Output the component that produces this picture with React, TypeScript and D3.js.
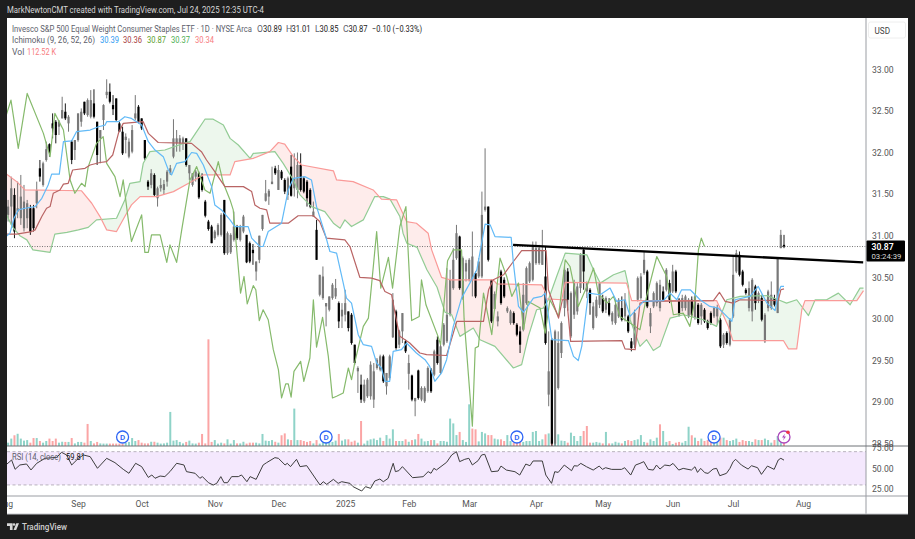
import { useEffect, useRef } from 'react';
import * as d3 from 'd3';

// daily bars, Aug 2024 - Jul 24 2025
const opens = [
  31.25,31.35,31.49,31.29,31.21,31.09,31.21,31.33,31.33,31.39,31.81,31.61,31.91,32.10,32.35,32.37,32.31,32.41,32.49,32.35,
  32.13,32.03,32.15,32.37,32.61,32.45,32.43,32.59,32.37,32.17,32.39,32.69,32.73,32.57,32.65,32.35,32.25,32.15,31.95,32.01,
  32.41,32.55,32.41,32.15,31.65,31.61,31.73,31.45,31.57,31.55,31.65,31.75,31.95,32.11,32.11,32.11,32.17,31.75,31.61,31.71,
  31.75,31.71,31.41,31.17,31.11,30.97,31.01,31.01,31.43,30.79,30.80,30.95,31.11,30.95,31.05,31.01,30.91,30.83,30.57,30.71,
  31.08,31.42,31.47,31.62,31.81,31.55,31.77,31.67,31.49,31.83,31.57,31.55,31.85,31.69,31.65,31.55,31.23,31.07,30.29,30.25,
  30.15,30.11,30.25,30.27,30.19,30.03,30.05,30.09,30.05,29.69,29.37,29.21,29.01,29.07,29.07,29.03,29.41,29.39,29.55,29.19,
  29.29,29.78,30.09,29.69,29.85,29.73,29.34,29.32,29.01,29.38,29.03,29.01,29.13,29.39,29.33,29.75,29.35,29.69,29.73,30.05,
  30.37,30.73,30.99,30.25,30.57,30.47,30.47,30.55,30.51,30.51,31.31,31.35,30.47,30.12,29.97,30.57,30.47,30.09,29.95,30.07,
  29.93,29.85,29.87,30.19,30.45,30.47,30.67,30.67,30.65,30.51,29.09,29.75,28.50,29.17,29.59,30.13,30.57,29.79,30.05,30.09,
  30.37,30.83,30.33,30.35,29.89,30.03,30.17,30.25,30.11,30.19,29.97,29.95,30.03,30.13,30.03,30.03,29.73,29.69,30.23,30.25,
  30.55,30.57,29.91,30.15,30.19,30.13,30.33,30.35,30.43,30.33,30.57,30.23,30.13,30.13,30.03,30.23,30.01,30.17,30.03,30.11,
  29.97,30.07,30.03,30.03,29.99,29.69,29.83,29.69,30.03,30.57,30.77,30.57,30.35,30.13,30.09,30.39,30.23,30.25,29.73,30.13,
  30.13,30.25,30.07,30.85,30.89,
];
const highs = [
  31.43,31.71,31.57,31.65,31.73,31.61,31.43,31.37,31.37,31.65,31.91,31.89,32.13,32.11,32.47,32.39,32.39,32.67,32.59,32.45,
  32.15,32.15,32.47,32.53,32.61,32.65,32.75,32.76,32.37,32.27,32.58,32.88,32.83,32.69,32.65,32.37,32.31,32.23,32.17,32.33,
  32.69,32.57,32.41,32.15,31.67,31.80,31.75,31.59,31.69,31.67,31.79,31.85,32.40,32.27,32.21,32.19,32.17,31.85,31.75,31.79,
  31.77,31.75,31.43,31.19,31.13,31.07,31.15,31.27,31.43,31.05,31.03,31.29,31.13,31.13,31.25,31.01,30.93,30.90,30.69,31.00,
  31.25,31.67,31.56,31.83,31.84,31.85,31.79,31.69,31.71,31.97,31.99,32.00,31.99,31.71,31.67,31.57,31.41,31.19,30.53,30.63,
  30.19,30.27,30.43,30.48,30.21,30.19,30.35,30.09,30.07,29.69,29.43,29.33,29.27,29.29,29.49,29.47,29.53,29.57,29.57,29.35,
  29.57,30.31,30.11,29.87,30.07,29.75,29.57,29.33,29.05,29.39,29.19,29.19,29.43,29.41,29.63,29.79,29.69,29.95,30.61,30.59,
  30.85,31.13,31.00,30.75,30.71,30.73,31.05,30.57,30.73,31.53,32.05,31.35,30.47,30.33,30.09,30.59,30.50,30.15,30.11,30.09,
  29.95,29.91,30.43,30.63,30.69,30.93,30.93,30.89,31.07,30.87,29.85,29.77,29.87,29.85,29.97,30.63,30.61,30.33,30.47,30.43,
  30.79,30.85,30.45,30.37,30.20,30.27,30.45,30.29,30.27,30.25,30.09,30.23,30.25,30.27,30.31,30.05,29.77,30.11,30.51,30.55,
  30.81,30.59,30.13,30.33,30.45,30.47,30.39,30.61,30.47,30.65,30.59,30.25,30.29,30.29,30.25,30.27,30.29,30.19,30.19,30.13,
  29.99,30.09,30.15,30.17,30.01,29.83,29.85,30.01,30.75,30.83,30.81,30.59,30.37,30.45,30.49,30.41,30.33,30.29,30.07,30.35,
  30.45,30.29,30.74,31.07,31.01,
];
const lows = [
  31.17,31.13,30.97,31.21,31.13,31.05,31.09,31.01,31.05,31.33,31.65,31.59,31.89,31.95,32.17,32.11,32.21,32.41,32.39,32.25,
  31.86,31.91,32.13,32.31,32.45,32.43,32.41,32.41,31.85,31.87,32.27,32.65,32.59,32.45,32.37,32.25,31.97,31.99,31.93,31.99,
  32.39,32.35,32.27,31.91,31.55,31.57,31.47,31.35,31.53,31.49,31.59,31.73,31.93,32.01,32.01,32.03,31.83,31.67,31.59,31.65,
  31.44,31.53,31.22,31.06,30.91,30.95,30.99,30.99,30.77,30.77,30.78,30.93,30.95,30.93,31.03,30.67,30.67,30.65,30.46,30.67,
  31.06,31.41,31.37,31.62,31.73,31.55,31.67,31.50,31.43,31.47,31.47,31.45,31.53,31.51,31.35,31.33,31.23,30.71,30.27,30.23,
  29.91,30.09,30.23,30.24,29.89,29.89,29.97,29.85,29.69,29.45,29.11,28.99,28.99,29.05,29.03,28.93,29.39,29.37,29.23,29.09,
  29.27,29.77,29.63,29.65,29.71,29.59,29.15,29.01,28.83,29.03,29.01,28.99,29.11,29.11,29.31,29.45,29.33,29.67,29.71,30.03,
  30.35,30.71,30.35,30.23,30.45,30.45,30.27,30.25,30.49,30.49,31.29,30.69,29.95,30.10,29.91,30.17,30.25,30.07,29.93,29.93,
  29.79,29.59,29.85,30.17,30.43,30.45,30.65,30.65,30.65,29.69,28.95,28.40,28.40,29.15,29.53,30.03,30.10,29.77,30.00,30.05,
  30.31,30.35,30.25,30.05,29.87,30.01,30.13,30.07,30.07,30.03,29.93,29.93,30.01,29.97,29.97,29.83,29.61,29.65,30.21,30.23,
  30.53,30.13,29.83,30.13,30.15,30.09,30.21,30.33,30.19,30.31,30.31,30.03,30.09,30.10,30.01,30.03,29.99,29.93,29.93,29.95,
  29.87,29.93,30.01,29.93,29.65,29.65,29.69,29.67,30.01,30.55,30.51,30.39,30.29,30.09,29.97,30.11,30.19,29.97,29.71,30.09,
  30.11,30.15,30.07,30.85,30.85,
];
const closes = [
  31.35,31.57,31.05,31.33,31.47,31.41,31.39,31.05,31.09,31.55,31.71,31.87,32.04,32.01,32.29,32.21,32.37,32.51,32.41,32.43,
  31.91,32.15,32.47,32.49,32.47,32.63,32.63,32.43,31.97,32.27,32.57,32.73,32.61,32.52,32.39,32.25,31.99,32.19,32.13,32.27,
  32.47,32.37,32.29,31.93,31.59,31.75,31.49,31.57,31.61,31.62,31.77,31.81,32.17,32.17,32.17,32.17,31.85,31.85,31.75,31.77,
  31.46,31.55,31.24,31.08,30.91,31.05,31.13,31.25,30.79,31.03,31.01,31.11,30.97,31.11,31.23,30.68,30.69,30.79,30.69,31.00,
  31.25,31.51,31.54,31.65,31.75,31.79,31.69,31.53,31.69,31.48,31.69,31.85,31.55,31.53,31.45,31.35,31.29,30.71,30.53,30.51,
  30.19,30.27,30.41,30.37,29.97,30.11,30.19,29.89,29.71,29.47,29.41,29.03,29.21,29.27,29.45,29.37,29.51,29.55,29.25,29.35,
  29.55,30.23,29.65,29.85,30.07,29.61,29.47,29.03,29.05,29.05,29.17,29.17,29.41,29.13,29.61,29.47,29.67,29.93,30.05,30.47,
  30.71,31.03,30.37,30.73,30.67,30.71,30.75,30.27,30.69,31.25,31.35,30.71,29.97,30.30,30.03,30.19,30.27,30.13,30.09,29.95,
  29.81,29.69,30.29,30.61,30.67,30.87,30.85,30.85,30.83,29.71,29.37,28.50,29.85,29.71,29.95,30.59,30.23,30.31,30.43,30.39,
  30.77,30.57,30.43,30.19,30.15,30.23,30.43,30.09,30.25,30.05,30.07,30.17,30.23,29.99,30.23,29.85,29.65,30.07,30.49,30.51,
  30.71,30.15,30.07,30.31,30.43,30.41,30.23,30.59,30.23,30.57,30.33,30.07,30.25,30.27,30.23,30.05,30.27,29.95,30.17,29.97,
  29.89,29.95,30.13,30.13,29.67,29.81,29.71,29.99,30.53,30.79,30.53,30.41,30.31,30.37,30.47,30.19,30.31,29.99,30.05,30.33,
  30.29,30.17,30.73,31.01,30.87,
];

// volume in thousands of shares
const volumes = [
  90,200,290,330,200,145,160,90,215,215,135,90,135,200,135,200,90,115,110,110,
  215,70,110,110,90,595,135,70,110,70,65,65,65,65,65,65,65,90,110,215,
  135,160,90,70,70,115,115,90,65,70,90,920,145,160,110,70,110,145,70,65,
  90,325,70,2880,110,160,65,90,70,180,65,160,70,70,115,65,90,90,90,70,
  325,145,135,160,115,90,290,340,180,160,1010,160,160,135,110,135,70,160,65,160,
  160,145,110,145,325,145,180,180,115,145,90,675,65,145,180,200,160,225,135,295,
  200,450,135,135,135,180,115,160,180,325,200,125,135,160,160,70,135,135,115,740,
  610,295,380,160,110,1125,470,450,125,380,340,295,295,200,180,180,135,295,135,90,
  90,225,110,135,135,380,405,135,180,315,340,225,315,315,145,135,90,360,270,135,
  270,405,540,90,90,110,90,70,380,70,70,115,90,70,135,160,135,160,180,295,
  110,90,180,135,225,585,405,110,135,55,90,110,90,135,520,290,225,135,200,135,
  160,110,90,135,225,225,160,135,160,200,110,160,135,135,110,180,160,160,200,160,
  90,160,270,110,112.52,
];
const redVolumeBars = [25, 61, 111, 146, 182, 205];
const tealVolumeBars = [139, 140, 145, 206, 214];

// ichimoku lines as [bar, price]
const tenkan: [number, number][] = [
  [-1,30.98],[0.6,31.03],[1.85,31.21],[3.2,31.31],[5.3,31.33],[8.5,31.35],[10.6,31.45],[12.6,31.61],[13.7,31.74],[16.1,31.74],[17.4,32.13],[20,32.14],[21.5,32.25],[25.8,32.27],[28.4,32.31],[30.5,32.33],[31,32.37],[34.7,32.37],[36.7,32.43],[38.8,32.41],[42,32.33],[44.1,32.13],[46.2,32.03],[48.8,31.95],[50.4,31.79],[51.4,31.73],[53,31.87],[55.6,31.89],[57.7,32],[59.3,31.99],[61.4,31.85],[64,31.59],[65,31.37],[67.1,31.31],[69.8,31.19],[71.3,31.11],[75.5,31.11],[76.6,30.97],[79.2,30.87],[80.2,30.87],[81.8,31.05],[86,31.15],[88.1,31.55],[89.7,31.69],[93.3,31.71],[95.4,31.67],[97,31.35],[99.6,31.03],[101.2,30.81],[103.3,30.79],[105.4,30.43],[106.4,30.25],[108,30.19],[110.1,29.81],[111.7,29.69],[114.3,29.67],[115.9,29.47],[117.4,29.41],[118.5,29.25],[120,29.25],[121.1,29.61],[123.7,29.63],[125.3,29.71],[128.4,29.59],[131.1,29.51],[132.6,29.43],[134.2,29.25],[136.3,29.35],[137.9,29.51],[140,29.91],[142.6,30.25],[145.2,30.43],[147.4,30.59],[150,31.14],[151.6,31.13],[153.1,30.99],[158.2,30.98],[158.9,30.67],[160.5,30.15],[162.1,30.08],[165.2,30.25],[167.8,30.27],[168.9,30.31],[171,29.75],[176.2,29.74],[177.8,29.55],[179.3,29.5],[180.4,29.67],[182.5,30.31],[186.2,30.29],[189.3,30.37],[191.4,30.21],[194,30.23],[195.6,30.03],[199.8,30.21],[206.1,30.22],[208.2,30.31],[210.3,30.23],[211.8,30.35],[214.5,30.35],[217.6,30.23],[220.7,30.15],[223.4,30.13],[226,30.03],[227.6,29.97],[228.6,30.23],[233.3,30.27],[235.9,30.39],[238.6,30.19],[241.2,30.1],[242.2,30.31],[243,30.39],[244,30.39],
];
const kijun: [number, number][] = [
  [-1,31.02],[2.7,31.02],[7.4,31.05],[8.5,31.07],[10.6,31.23],[12.1,31.33],[13.2,31.35],[14.2,31.51],[16.3,31.55],[17.4,31.62],[18.9,31.63],[20.3,31.79],[24.2,31.81],[25.8,31.85],[28.9,31.88],[31,31.89],[32.9,31.97],[34.7,32.23],[36.2,32.35],[42.5,32.37],[44.1,32.23],[47.2,32.12],[57.7,32.11],[60.8,32.01],[62.4,31.91],[65,31.77],[67.1,31.65],[68.2,31.59],[74,31.59],[76.6,31.53],[77.6,31.37],[79.2,31.33],[81.3,31.31],[82.3,31.15],[88.1,31.15],[91.2,31.24],[96,31.24],[98,31.17],[100.1,30.97],[105.9,30.95],[107.5,30.87],[110.6,30.5],[114.3,30.49],[116.9,30.46],[118.5,30.33],[120.6,30.29],[122.7,29.87],[123.2,29.79],[126.3,29.71],[129.5,29.59],[131.6,29.57],[137.9,29.56],[141.1,29.97],[149.5,29.97],[151.1,30.35],[152.6,30.47],[155.8,30.53],[158.9,30.69],[161.5,30.82],[169.2,30.82],[169.9,30.35],[173.1,30.01],[174.3,30.23],[175.7,30.23],[176.9,29.73],[193,29.74],[194,29.64],[197.2,29.63],[198.7,30.19],[200.8,30.21],[221.8,30.22],[223.7,30.32],[225.5,30.21],[228,30.19],[230.2,30.23],[242.2,30.22],[243,30.35],[244,30.36],
];
const lagging: [number, number][] = [
  [-1,32.4],[0.9,32.63],[3.2,32.05],[6,32.71],[11.1,32.23],[13.2,31.95],[14.7,32.47],[17.4,32.27],[19.5,31.67],[21,31.51],[23.1,31.63],[24.2,31.59],[25.2,31.83],[27.8,32.11],[29.9,32.19],[31,31.87],[33.6,31.71],[35.2,31.47],[36.2,31.67],[37.8,31.19],[38.8,30.93],[42,31.25],[43,30.8],[44.1,30.8],[45.1,31.01],[47.8,31.01],[49.9,30.68],[50.9,30.89],[53,30.68],[54.6,31.07],[57.2,31.67],[59.3,31.83],[61.9,31.55],[63.5,31.51],[66.1,31.89],[67.7,31.63],[69.8,31.43],[70.8,31.31],[71.9,30.83],[73.1,30.31],[74.2,30.51],[75.2,30.18],[77.1,30.4],[77.9,30.35],[79,29.98],[80.2,30.11],[81.8,29.99],[83.4,29.63],[85,29.39],[86,29.05],[87.3,29.22],[88.1,29.22],[89,29.06],[89.9,29.37],[92,29.49],[93,29.25],[94.9,29.53],[96,30.23],[97,29.66],[98.9,30.02],[100.7,29.55],[102,29.05],[103.3,29.07],[105.4,29.11],[107,29.41],[108,29.27],[109.1,29.49],[111.7,29.91],[113.3,30.01],[115.9,31.05],[117.2,30.37],[119.6,30.74],[120.9,30.37],[123.2,31.11],[125.1,31.35],[126.9,29.98],[129.3,30.03],[130,30.47],[131.4,30.17],[135.2,29.79],[136,29.69],[138.2,30.7],[140,30.83],[142.6,30.83],[143.4,30],[146,28.71],[146.9,29.65],[147.9,29.67],[149.5,30.31],[152.1,29.81],[154.7,30.73],[156.8,30.51],[158.4,30.27],[160.5,30.43],[162.1,29.87],[163.6,30.21],[167.3,30.13],[168.9,29.83],[170.4,30.23],[173.1,30.03],[175.2,30.71],[176.7,30.63],[179.3,30.15],[182,30.39],[184.1,30.61],[185.6,30.31],[188.3,30.19],[190.4,30.27],[192.4,30.03],[195.6,29.95],[198.7,29.87],[200.8,30.27],[204,30.75],[207.1,30.51],[209.2,30.05],[212.3,30.07],[214.4,29.91],[216,30.23],[217.1,30.83],[218,30.97],[219,30.87],
];
const leadA: [number, number][] = [
  [-1,31.3],[0,31.21],[1.5,31.1],[3.7,31],[5.9,30.95],[7.8,30.83],[13.2,30.8],[14.7,31.02],[18.5,31.04],[22.1,31.07],[25.2,31.1],[27.8,31.19],[34.1,31.21],[36.7,31.43],[38.3,31.63],[41.5,31.65],[42.5,31.87],[44.6,32.01],[49.3,32.03],[55.1,32.11],[57.2,32.13],[59.3,32.25],[61.9,32.4],[64.5,32.4],[67.7,32.33],[69.8,32.17],[72.4,32.09],[76.1,31.93],[77.1,31.99],[83.9,32.01],[86.5,31.87],[89.7,31.67],[91.8,31.49],[95.4,31.35],[99.6,31.29],[102.3,31.15],[104.4,31.09],[105.9,31.19],[108,31.11],[111.7,31.19],[115.3,31.47],[118,31.47],[120.1,31.44],[123.2,31.23],[124.2,31.03],[125.4,30.91],[128.6,30.86],[131.7,30.59],[134.9,30.38],[137.4,30.08],[139.5,30.05],[142.1,29.79],[146.3,29.89],[148.4,29.75],[153.1,29.67],[158.9,29.41],[161.5,29.45],[163.6,29.79],[166.2,30.11],[168.3,30.13],[169.9,30.23],[172.5,30.51],[175.2,30.79],[182,30.77],[184.1,30.59],[186.2,30.43],[190.4,30.53],[194,30.58],[195.1,30.39],[195.6,29.99],[198.7,29.67],[200.8,29.75],[202.9,29.62],[205,29.67],[208.2,30.01],[212.4,30.05],[218.6,29.99],[222.8,29.91],[226,30.23],[230.2,30.27],[238.6,30.28],[242.2,30.23],[244.8,30.19],[248,30.23],[251.7,30.04],[253.8,30.23],[257.4,30.23],[261.1,30.31],[264.8,30.17],[267.9,30.37],[269,30.37],
];
const leadB: [number, number][] = [
  [-1,31.78],[-0.45,31.74],[2.7,31.65],[5.3,31.55],[23.1,31.54],[26.3,31.39],[28.9,31.23],[31,31.07],[34.1,31.05],[36.7,31.23],[38.8,31.37],[41.5,31.47],[46.7,31.47],[52,31.53],[57.2,31.64],[61.4,31.73],[69.8,31.73],[71.3,31.89],[77.1,31.93],[82.3,32.01],[85,32.12],[87,32.1],[89.7,31.95],[92.3,31.85],[102.3,31.78],[103.3,31.67],[108.5,31.65],[114.8,31.55],[117.4,31.44],[122.2,31.43],[125.3,31.17],[128.4,31.15],[132.1,31.03],[133.2,30.83],[136.3,30.5],[139,30.47],[152.6,30.47],[153.7,30.42],[167.8,30.41],[168.9,30.33],[169.4,30.24],[174.1,30.23],[175.2,30.44],[194.5,30.43],[196.1,30.22],[222.8,30.22],[226.5,29.91],[227.9,29.74],[243.8,29.74],[245.4,29.64],[248,29.64],[249.6,30.11],[250.6,30.22],[266.9,30.22],[269,30.34],
];

// hand-drawn resistance line
const trendLine: [number, number][] = [[158.8, 30.89], [268.9, 30.68]];

const rsi: [number, number][] = [
  [-1,53],[1.1,60],[2.2,48.8],[3.7,54],[5.8,55.2],[7.2,48],[9,56],[11.6,62],[15.3,63.2],[16.8,69.2],[18.4,66],[20,54],[22.1,62],[23.7,66],[25.8,64],[28.1,50],[31,62],[33.6,56.8],[36.2,48.8],[38,44],[40.1,56],[42,52],[44.1,39],[45.2,42],[46.2,38],[47.8,40.7],[49.3,40],[50.9,46],[53,56],[55.3,54],[56.1,46],[58.8,44],[60.3,38],[61.1,40],[63,32.7],[64.5,29.9],[65.6,31.9],[66.9,40],[67.9,32.7],[69,32.7],[70.3,40],[72.4,40],[73.4,42],[75.1,33.9],[76.1,40],[78,36.7],[80.2,54],[81.3,56.8],[83.9,62.8],[85,62],[87.1,54],[87.8,56],[88.8,52],[90.7,60.8],[91.8,52],[93.9,53.2],[97,35.9],[98.1,29.9],[99.1,33.9],[100.2,30.7],[102.3,36.7],[103.8,31.9],[104.9,33.9],[107.5,31.9],[108.5,27.9],[111.2,22.7],[112.4,27.9],[114,25.9],[115.3,34.7],[116.9,37.1],[118,33.9],[119.5,37.9],[121.1,56],[121.8,46],[122.9,47.2],[124,52],[127.2,38.7],[130.5,39.9],[132.1,46],[133,44],[133.9,50],[134.7,48],[137.9,57.2],[139.5,66],[141,70],[142,58],[143.6,60.8],[144.9,62],[146,54],[147.8,59.2],[148.9,66],[149.9,66.8],[152,45.9],[154.1,46.7],[155,52.7],[156.7,47.9],[159.4,45.9],[160.9,41.9],[162.8,55.1],[164.1,53.1],[165.1,58.8],[168,58.8],[169.1,41.9],[170.9,31.9],[171.9,45.9],[173,45.1],[174.9,53.9],[177.2,47.1],[178,53.1],[179,52.7],[180.1,55.9],[181.9,51.9],[184,47.9],[185.9,52.7],[186.9,48.7],[187.9,50.7],[189.8,48.7],[192.9,48.7],[193.9,50.7],[195.8,41.9],[197.3,53.9],[198.7,55.9],[199.9,58],[201.3,48.7],[202.9,47.9],[203.9,53.9],[205,49.1],[206.5,53.9],[208.1,53.1],[209.1,55.9],[210.9,47.9],[212.3,49.9],[214.9,47.9],[216,51.9],[216.8,45.1],[217.8,49.9],[219.1,44.7],[220.1,43.9],[221.7,49.1],[222.8,49.9],[223.8,41.1],[225.9,43.9],[227,49.9],[228,57.9],[228.8,60.8],[230.6,53.9],[232.7,49.1],[233.8,53.1],[235.7,50.7],[236.9,42.7],[238.8,52.7],[240.9,48.7],[242.2,60],[243,62],[244,59.81],
];

const priceTicks = [33, 32.5, 32, 31.5, 31, 30.5, 30, 29.5, 29, 28.5];
const rsiTicks = [75, 50, 25];
const timeTicks = [-1, 22, 42, 65, 85, 106, 126, 145, 166, 187, 209, 228, 250];
const timeLabels = ['Aug', 'Sep', 'Oct', 'Nov', 'Dec', '2025', 'Feb', 'Mar', 'Apr', 'May', 'Jun', 'Jul', 'Aug'];
const dividendBars = [36, 100, 160, 222];
const earningsBar = 244;
const lastClose = 30.87;
const ohlcKeys = ['O', 'H', 'L', 'C'];
const ohlcValues = ['30.89', '31.01', '30.85', '30.87'];
const ichimokuValues = ['30.39', '30.36', '30.87', '30.37', '30.34'];

const FONT = 'Roboto, sans-serif';

export default function App() {
  const svgRef = useRef<SVGSVGElement | null>(null);

  useEffect(() => {
    const svg = d3.select(svgRef.current);
    svg.selectAll('*').remove();

    const width = 915, height = 539;
    const left = 7, top = 18, right = 908, axisX = 866, paneY = 446, rsiBottom = 496, bottom = 514;

    const x = d3.scaleLinear().domain([0, 244]).range([8.1, 784]);
    const y = d3.scaleLinear().domain([33, 28.5]).range([69.3, 443.7]);
    const yRsi = d3.scaleLinear().domain([75, 25]).range([447.5, 489.1]);
    const yVol = d3.scaleLinear().domain([0, 2700]).range([paneY, paneY - 100]);

    svg.append('rect').attr('width', width).attr('height', height).attr('fill', '#1e1e1e');
    svg.append('rect').attr('x', left).attr('y', top).attr('width', right - left).attr('height', bottom - top).attr('fill', '#fff');

    const defs = svg.append('defs');
    defs.append('clipPath').attr('id', 'main-clip').append('rect')
      .attr('x', left).attr('y', top).attr('width', axisX - left).attr('height', paneY - top);
    defs.append('clipPath').attr('id', 'rsi-clip').append('rect')
      .attr('x', left).attr('y', paneY).attr('width', axisX - left).attr('height', rsiBottom - paneY);
    defs.append('clipPath').attr('id', 'time-clip').append('rect')
      .attr('x', left).attr('y', rsiBottom).attr('width', axisX - left).attr('height', bottom - rsiBottom);

    // cloud: each colour is the area beyond one lead, clipped by the other
    const areaTop = (pts: [number, number][]) => d3.area<[number, number]>()
      .x(d => x(d[0])).y0(top).y1(d => y(d[1]))(pts) as string;
    const areaBottom = (pts: [number, number][]) => d3.area<[number, number]>()
      .x(d => x(d[0])).y0(paneY).y1(d => y(d[1]))(pts) as string;
    defs.append('clipPath').attr('id', 'under-a').append('path').attr('d', areaBottom(leadA));
    defs.append('clipPath').attr('id', 'under-b').append('path').attr('d', areaBottom(leadB));

    const main = svg.append('g').attr('clip-path', 'url(#main-clip)');

    // volume
    main.append('g').selectAll('rect').data(volumes).join('rect')
      .attr('x', (_, i) => x(i) - 1)
      .attr('width', 2)
      .attr('y', d => yVol(d))
      .attr('height', d => paneY - yVol(d))
      .attr('fill', (_, i) => {
        const up = closes[i] >= opens[i];
        if (redVolumeBars.includes(i)) return '#fba5a5';
        if (tealVolumeBars.includes(i)) return '#8fd3c8';
        return up ? '#8fd3c8' : '#fba5a5';
      });

    main.append('g').attr('clip-path', 'url(#under-a)')
      .append('path').attr('d', areaTop(leadB)).attr('fill', '#4caf50').attr('fill-opacity', 0.1);
    main.append('g').attr('clip-path', 'url(#under-b)')
      .append('path').attr('d', areaTop(leadA)).attr('fill', '#f44336').attr('fill-opacity', 0.1);

    // last price line
    main.append('line')
      .attr('x1', left).attr('x2', axisX).attr('y1', y(lastClose)).attr('y2', y(lastClose))
      .attr('stroke', '#555').attr('stroke-width', 0.8).attr('stroke-dasharray', '1,1.5');

    // candles
    const candles = main.append('g');
    opens.forEach((o, i) => {
      const c = closes[i];
      const color = c >= o ? '#787878' : '#000';
      candles.append('line')
        .attr('x1', x(i)).attr('x2', x(i))
        .attr('y1', y(highs[i])).attr('y2', y(lows[i]))
        .attr('stroke', c >= o ? '#666' : '#000').attr('stroke-width', 0.9);
      candles.append('rect')
        .attr('x', x(i) - 1.1).attr('width', 2.2)
        .attr('y', y(Math.max(o, c)))
        .attr('height', Math.max(1, Math.abs(y(o) - y(c))))
        .attr('fill', color);
    });

    // ichimoku lines
    const line = d3.line<[number, number]>().x(d => x(d[0])).y(d => y(d[1]));
    const drawLine = (pts: [number, number][], color: string, w = 1.2) =>
      main.append('path').attr('d', line(pts)).attr('fill', 'none')
        .attr('stroke', color).attr('stroke-width', w).attr('stroke-linejoin', 'round');
    drawLine(leadA, '#93cc95');
    drawLine(leadB, '#fa9a98');
    drawLine(lagging, '#86ba6c');
    drawLine(kijun, '#b96464');
    drawLine(tenkan, '#62baf7');
    drawLine(trendLine, '#000', 2.4);

    // dividend and earnings markers
    dividendBars.forEach(b => {
      main.append('circle').attr('cx', x(b)).attr('cy', 437).attr('r', 6)
        .attr('fill', '#fff').attr('stroke', '#2f66f5').attr('stroke-width', 1.3);
      main.append('text').attr('x', x(b)).attr('y', 440).attr('text-anchor', 'middle')
        .attr('font-family', FONT).attr('font-size', 8).attr('font-weight', 600).attr('fill', '#2f66f5').text('D');
    });
    const ex = x(earningsBar);
    main.append('circle').attr('cx', ex).attr('cy', 437).attr('r', 6)
      .attr('fill', '#fff').attr('stroke', '#ab47bc').attr('stroke-width', 1.3);
    main.append('path').attr('d', `M${ex + 1} ${433.5}L${ex - 2} ${437.6}H${ex}L${ex - 1} ${440.5}L${ex + 2} ${436.4}H${ex}Z`).attr('fill', '#ab47bc');
    main.append('circle').attr('cx', ex + 4).attr('cy', 432.3).attr('r', 1.8).attr('fill', '#f23645');

    // rsi pane
    const rsiPane = svg.append('g').attr('clip-path', 'url(#rsi-clip)');
    rsiPane.append('rect')
      .attr('x', left).attr('width', axisX - left)
      .attr('y', yRsi(70)).attr('height', yRsi(30) - yRsi(70))
      .attr('fill', '#f4e8fd');
    [70, 30].forEach(v => {
      rsiPane.append('line')
        .attr('x1', left).attr('x2', axisX).attr('y1', yRsi(v)).attr('y2', yRsi(v))
        .attr('stroke', '#a9a2ad').attr('stroke-width', 0.8).attr('stroke-dasharray', '3,2.5');
    });
    const rsiLine = d3.line<[number, number]>().x(d => x(d[0])).y(d => yRsi(d[1]));
    rsiPane.append('path').attr('d', rsiLine(rsi)).attr('fill', 'none')
      .attr('stroke', '#3d3d3d').attr('stroke-width', 1);

    // frame lines
    const frame = '#9a9da3';
    svg.append('line').attr('x1', axisX).attr('x2', axisX).attr('y1', top).attr('y2', bottom).attr('stroke', frame).attr('stroke-width', 1);
    svg.append('line').attr('x1', left).attr('x2', right).attr('y1', paneY).attr('y2', paneY).attr('stroke', '#6f7277').attr('stroke-width', 1);
    svg.append('line').attr('x1', left).attr('x2', right).attr('y1', rsiBottom).attr('y2', rsiBottom).attr('stroke', frame).attr('stroke-width', 1);
    svg.append('line').attr('x1', left).attr('x2', right).attr('y1', bottom).attr('y2', bottom).attr('stroke', '#c4c6ca').attr('stroke-width', 1);

    // axes
    const styleAxis = (g: any) => {
      g.select('.domain').remove();
      g.selectAll('text').attr('font-family', FONT).attr('font-size', 8.6).attr('fill', '#555');
    };
    const priceAxis = svg.append('g').attr('transform', `translate(${axisX + 3},0)`)
      .call(d3.axisRight(y).tickValues(priceTicks).tickSize(0).tickFormat(d => (+d).toFixed(2)) as any);
    styleAxis(priceAxis);
    const rsiAxis = svg.append('g').attr('transform', `translate(${axisX + 3},0)`)
      .call(d3.axisRight(yRsi).tickValues(rsiTicks).tickSize(0).tickFormat(d => (+d).toFixed(2)) as any);
    styleAxis(rsiAxis);
    // clip on the outer group so the axis offset does not move the clip box
    const timeAxis = svg.append('g').attr('clip-path', 'url(#time-clip)')
      .append('g').attr('transform', `translate(0,${rsiBottom + 2})`)
      .call(d3.axisBottom(x).tickValues(timeTicks).tickSize(0).tickFormat((_, i) => timeLabels[i]) as any);
    styleAxis(timeAxis);

    // last price tag
    svg.append('rect').attr('x', axisX + 0.5).attr('y', 240.5).attr('width', 38.5).attr('height', 21).attr('rx', 1).attr('fill', '#000');
    const addText = (tx: number, ty: number, s: string, fill: string, size = 8.6, weight: number | string = 400, len?: number) => {
      const t = svg.append('text').attr('x', tx).attr('y', ty).attr('font-family', FONT)
        .attr('font-size', size).attr('font-weight', weight).attr('fill', fill).text(s);
      if (len) t.attr('textLength', len).attr('lengthAdjust', 'spacingAndGlyphs');
      return t;
    };
    addText(axisX + 5.5, 249.5, '30.87', '#fff', 8.6, 600);
    addText(axisX + 5.5, 259, '03:24:39', '#d8d8d8', 7.8, 400, 30);

    // currency button
    svg.append('rect').attr('x', 868.5).attr('y', 22).attr('width', 37).attr('height', 16).attr('rx', 2)
      .attr('fill', '#fff').attr('stroke', '#eeeeee');
    addText(874.5, 33.5, 'USD', '#444', 8.2);

    // header
    addText(7, 13, 'MarkNewtonCMT created with TradingView.com, Jul 24, 2025 12:35 UTC-4', '#d6d6d6', 8.6, 400, 257);

    // legend
    const grey = '#5d606b';
    addText(12, 31.5, 'Invesco S&P 500 Equal Weight Consumer Staples ETF · 1D · NYSE Arca', grey, 8.6, 400, 240);
    const ohlcX = [257, 286, 315, 343];
    const ohlcGap = [6, 5.6, 4.6, 5.4];
    ohlcKeys.forEach((k, i) => {
      addText(ohlcX[i], 31.5, k, grey, 8.6);
      addText(ohlcX[i] + ohlcGap[i], 31.5, ohlcValues[i], '#222', 8.6, 400, 19);
    });
    addText(372, 31.5, '−0.10 (−0.33%)', '#222', 8.6, 400, 50);

    addText(12, 43, 'Ichimoku (9, 26, 52, 26)', grey, 8.6, 400, 83);
    const ichimokuColors = ['#2e9cf2', '#a83c3c', '#5aa02c', '#4caf50', '#f77c80'];
    const ichimokuX = [100, 123, 147, 171, 195];
    ichimokuValues.forEach((s, i) => addText(ichimokuX[i], 43, s, ichimokuColors[i], 8.6, 400, 19));

    addText(12, 54.5, 'Vol', grey, 8.6);
    addText(27, 54.5, '112.52 K', '#f77c80', 8.6, 400, 29);

    addText(12, 459.5, 'RSI (14, close)', grey, 8.6, 400, 49);
    addText(66, 459.5, '59.81', '#111', 8.6, 400, 19);

    // footer logo
    const logo = svg.append('g').attr('fill', '#d8d8d8');
    logo.append('path').attr('d', 'M7 523.2h5.6v6.8H9.9v-4.1H7z');
    logo.append('circle').attr('cx', 14).attr('cy', 524.5).attr('r', 1.3);
    logo.append('path').attr('d', 'M16.3 523.2H19l-2.8 6.8h-2.7z');
    addText(22, 530, 'TradingView', '#d0d0d0', 8.8, 500, 45);
  }, []);

  return <svg ref={svgRef} width={915} height={539} style={{ position: 'absolute', left: 0, top: 0, display: 'block' }} />;
}
